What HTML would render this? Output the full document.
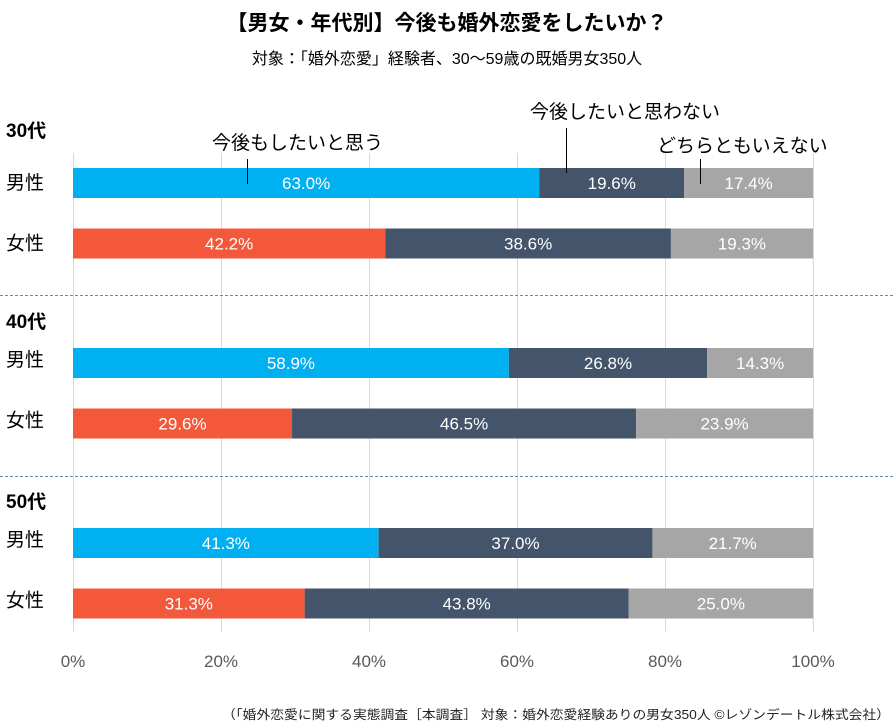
<!DOCTYPE html>
<html><head><meta charset="utf-8"><style>
body{margin:0;background:#fff;}
svg text{font-family:"Liberation Sans","Noto Sans CJK JP",sans-serif;}
</style></head><body>
<svg id="chart" width="894" height="722" viewBox="0 0 894 722" xmlns="http://www.w3.org/2000/svg">
<text x="447" y="30" text-anchor="middle" font-size="21" font-weight="bold" fill="#000">【男女・年代別】今後も婚外恋愛をしたいか？</text>
<text x="447" y="64" text-anchor="middle" font-size="16" fill="#000">対象：「婚外恋愛」経験者、30～59歳の既婚男女350人</text>
<g id="grid"></g>
<g id="bars"></g>
<g id="labels"></g>
<line x1="0" y1="295.5" x2="894" y2="295.5" stroke="#5b8fb0" stroke-dasharray="3,2"/>
<line x1="0" y1="476.5" x2="894" y2="476.5" stroke="#5b8fb0" stroke-dasharray="3,2"/>
<g>
<text x="212" y="149" font-size="19" fill="#000">今後もしたいと思う</text>
<line x1="247.5" y1="159" x2="247.5" y2="184" stroke="#000"/>
<text x="530" y="118" font-size="19" fill="#000">今後したいと思わない</text>
<line x1="566.5" y1="128" x2="566.5" y2="173" stroke="#000"/>
<text x="657" y="152" font-size="19" fill="#000">どちらともいえない</text>
<line x1="700.5" y1="159" x2="700.5" y2="184" stroke="#000"/>
</g>
<text x="890" y="719" text-anchor="end" font-size="12.5" fill="#222" textLength="668" lengthAdjust="spacingAndGlyphs">（「婚外恋愛に関する実態調査［本調査］ 対象：婚外恋愛経験ありの男女350人 ©レゾンデートル株式会社）</text>
</svg>
<script>
const groups = ["30代","40代","50代"];
const rowLabels = ["男性","女性"];
const wantVals = [63.0,42.2,58.9,29.6,41.3,31.3];
const notWantVals = [19.6,38.6,26.8,46.5,37.0,43.8];
const neitherVals = [17.4,19.3,14.3,23.9,21.7,25.0];
const tickVals = [0,20,40,60,80,100];
const tickLabels = ["0%","20%","40%","60%","80%","100%"];

const NS="http://www.w3.org/2000/svg";
const x0=73, x1=813;
const xs = v => x0 + (x1-x0)*v/100;
const rowY = i => 168 + Math.floor(i/2)*180 + (i%2)*60.5;
const barH = 30;
const groupY = [137, 328, 508];
function mk(tag, attrs, parent){const e=document.createElementNS(NS,tag);for(const k in attrs)e.setAttribute(k,attrs[k]);parent.appendChild(e);return e;}
const grid=document.getElementById('grid'), bars=document.getElementById('bars'), labels=document.getElementById('labels');
tickVals.forEach((t,i)=>{
  const l=mk('line',{x1:xs(t)+0.5,x2:xs(t)+0.5,y1:153,y2:632,stroke:'#d9d9d9'},grid);
  
  
  const tx=mk('text',{x:xs(t),y:667,'text-anchor':'middle','font-size':17,fill:'#595959'},grid);
  tx.textContent=tickLabels[i];
  
  
});
groups.forEach((g,gi)=>{
  const t=mk('text',{x:6,y:groupY[gi],'font-size':19,'font-weight':'bold',fill:'#000'},labels);
  t.textContent=g;
  
  
});
const colors=['#00b0f0','#f4583a','#44546a','#a6a6a6'];
wantVals.forEach((w,i)=>{
  const y=rowY(i);
  const rl=mk('text',{x:6,y:y+(i<2?21:18),'font-size':19,fill:'#000'},labels);
  rl.textContent=rowLabels[i%2];
  
  
  const segs=[[w,i%2?colors[1]:colors[0],'want'],[notWantVals[i],colors[2],'not-want'],[neitherVals[i],colors[3],'neither']];
  let acc=0;
  segs.forEach(s=>{
    const a=xs(acc), b=xs(Math.min(acc+s[0],100));
    const r=mk('rect',{x:a,y:y,width:b-a,height:barH,fill:s[1]},bars);
    
    
    const tx=mk('text',{x:(a+b)/2,y:y+21,'text-anchor':'middle','font-size':17,fill:'#fff'},bars);
    tx.textContent=s[0].toFixed(1)+'%';
    
    
    acc+=s[0];
  });
});
</script>
</body></html>
